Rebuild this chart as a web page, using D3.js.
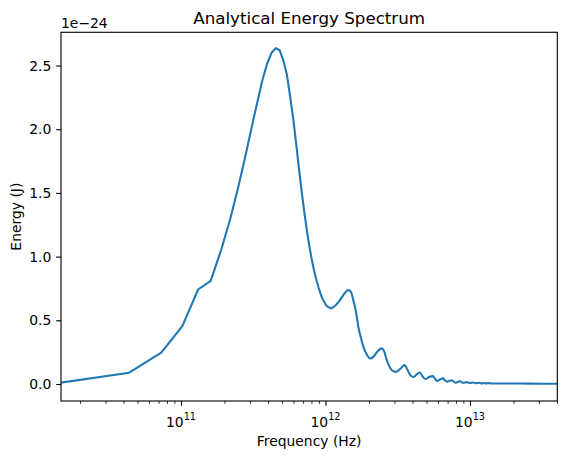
<!DOCTYPE html>
<html>
<head>
<meta charset="utf-8">
<script src="https://cdn.jsdelivr.net/npm/d3@7"></script>
<style>
  body { margin: 0; background: #fff; }
  text { font-family: "DejaVu Sans", sans-serif; fill: #000; }
</style>
</head>
<body>
<svg id="chart"></svg>
<script>
// regularly sampled low part of the spectrum (Hz / energy in units of 1e-24 J)
const sampledFreq = [1.46e10, 4.38e10, 7.30e10, 1.022e11, 1.314e11, 1.606e11,
  1.898e11, 2.19e11, 2.482e11, 2.774e11, 3.066e11, 3.358e11, 3.65e11, 3.942e11, 4.234e11, 4.526e11,
  4.818e11, 5.11e11, 5.402e11, 5.694e11, 5.986e11, 6.278e11, 6.57e11, 6.862e11, 7.154e11, 7.446e11,
  7.738e11, 8.03e11, 8.322e11, 8.614e11, 8.906e11, 9.198e11, 9.49e11, 9.782e11, 1.0074e12, 1.0366e12,
  1.0658e12, 1.095e12];
const sampledEnergy = [0.010, 0.089, 0.247, 0.455, 0.742, 0.810,
  1.054, 1.294, 1.539, 1.777, 2.001, 2.202, 2.380, 2.514, 2.600, 2.637,
  2.620, 2.540, 2.430, 2.257, 2.080, 1.880, 1.680, 1.500, 1.340, 1.200,
  1.080, 0.980, 0.895, 0.825, 0.765, 0.715, 0.675, 0.645, 0.620, 0.607,
  0.598, 0.595];

// ringing tail above ~1 THz
const tailFreq = [1.095e12, 1.163e12, 1.260e12, 1.343e12, 1.438e12, 1.502e12, 1.557e12, 1.626e12,
  1.687e12, 1.761e12, 1.827e12, 1.922e12, 2.032e12, 2.149e12, 2.272e12, 2.449e12, 2.540e12,
  2.652e12, 2.751e12, 2.872e12, 3.080e12, 3.330e12, 3.521e12, 3.693e12, 3.844e12, 4.051e12,
  4.264e12, 4.494e12, 4.692e12, 4.920e12, 5.203e12, 5.528e12, 5.725e12, 5.939e12, 6.200e12,
  6.483e12, 6.714e12, 6.988e12, 7.214e12, 7.472e12, 7.689e12, 7.939e12, 8.195e12, 8.528e12,
  9.0e12, 9.5e12, 1.0e13, 1.05e13, 1.1e13, 1.15e13, 1.2e13, 1.25e13, 1.3e13, 1.35e13, 1.4e13,
  1.613e13, 2.6e13, 4.0e13];
const tailEnergy = [0.595, 0.612, 0.659, 0.706, 0.738, 0.722, 0.659, 0.565,
  0.450, 0.361, 0.293, 0.235, 0.200, 0.215, 0.250, 0.280, 0.260,
  0.190, 0.144, 0.110, 0.095, 0.124, 0.148, 0.112, 0.073, 0.055,
  0.073, 0.091, 0.061, 0.039, 0.055, 0.062, 0.042, 0.024, 0.036,
  0.044, 0.029, 0.018, 0.025, 0.029, 0.020, 0.010, 0.016, 0.021,
  0.009, 0.015, 0.007, 0.012, 0.006, 0.010, 0.005, 0.008, 0.005, 0.007, 0.0045,
  0.004, 0.003, 0.002];

const yTicks = [0.0, 0.5, 1.0, 1.5, 2.0, 2.5];
const xTickExps = [11, 12, 13];
const xDomain = [1.478e10, 4.02e13];
const yDomain = [-0.1334, 2.761];

class SpectrumChart {
    margin = { top: 32.3, right: 9.7, bottom: 58, left: 61 }

    constructor(svg, width = 567, height = 459) {
        this.svg = svg;
        this.width = width;
        this.height = height;
    }

    initialize() {
        this.svg = d3.select(this.svg)
            .attr("width", this.width)
            .attr("height", this.height);
        this.innerW = this.width - this.margin.left - this.margin.right;
        this.innerH = this.height - this.margin.top - this.margin.bottom;

        this.x = d3.scaleLog().domain(xDomain)
            .range([this.margin.left, this.margin.left + this.innerW]);
        this.y = d3.scaleLinear().domain(yDomain)
            .range([this.margin.top + this.innerH, this.margin.top]);

        this.svg.append("clipPath").attr("id", "plotClip")
            .append("rect")
            .attr("x", this.margin.left).attr("y", this.margin.top)
            .attr("width", this.innerW).attr("height", this.innerH);
    }

    update() {
        const x = this.x, y = this.y;
        const bottom = this.margin.top + this.innerH;
        const left = this.margin.left;
        const midX = left + this.innerW / 2;

        const sampled = d3.zip(sampledFreq, sampledEnergy);
        const tail = d3.zip(tailFreq, tailEnergy);

        const plot = this.svg.append("g").attr("clip-path", "url(#plotClip)");
        const straight = d3.line().x(d => x(d[0])).y(d => y(d[1]));
        const smooth = d3.line().x(d => x(d[0])).y(d => y(d[1])).curve(d3.curveMonotoneX);

        plot.append("path").datum(sampled)
            .attr("d", straight)
            .attr("fill", "none").attr("stroke", "#1f77b4")
            .attr("stroke-width", 2.08).attr("stroke-linejoin", "round").attr("stroke-linecap", "square");
        plot.append("path").datum(tail)
            .attr("d", smooth)
            .attr("fill", "none").attr("stroke", "#1f77b4")
            .attr("stroke-width", 2.08).attr("stroke-linejoin", "round");

        // x axis: major decade ticks + minor ticks
        const minor = [];
        for (let e = 10; e <= 13; e++) {
            for (let m = 2; m <= 9; m++) {
                const v = m * Math.pow(10, e);
                if (v >= xDomain[0] && v <= xDomain[1]) minor.push(v);
            }
        }
        const xAxis = this.svg.append("g").attr("transform", `translate(0,${bottom})`);
        xAxis.append("g")
            .call(d3.axisBottom(x).tickValues(minor).tickSize(2.78).tickFormat(""))
            .call(g => g.select(".domain").remove())
            .selectAll("line").attr("stroke", "#000").attr("stroke-width", 0.83);
        const major = xAxis.append("g")
            .call(d3.axisBottom(x).tickValues(xTickExps.map(e => Math.pow(10, e))).tickSize(4.86).tickFormat(""))
            .call(g => g.select(".domain").remove());
        major.selectAll("line").attr("stroke", "#000").attr("stroke-width", 1.11);

        xTickExps.forEach(e => {
            const t = this.svg.append("text")
                .attr("x", x(Math.pow(10, e)))
                .attr("y", bottom + 26)
                .attr("text-anchor", "middle")
                .style("font-size", "13.9px");
            t.append("tspan").text("10");
            t.append("tspan").attr("dy", -6.8).style("font-size", "9.7px").text(e);
        });

        // y axis
        const yAxis = this.svg.append("g").attr("transform", `translate(${left},0)`);
        yAxis.call(d3.axisLeft(y).tickValues(yTicks).tickSize(4.86).tickPadding(4.86).tickFormat(d3.format(".1f")))
            .call(g => g.select(".domain").remove());
        yAxis.selectAll("line").attr("stroke", "#000").attr("stroke-width", 1.11);
        yAxis.selectAll("text")
            .attr("fill", "#000")
            .style("font-family", "DejaVu Sans")
            .style("font-size", "13.9px");

        // frame
        this.svg.append("rect")
            .attr("x", left).attr("y", this.margin.top)
            .attr("width", this.innerW).attr("height", this.innerH)
            .attr("fill", "none").attr("stroke", "#000").attr("stroke-width", 1.11);

        // texts
        this.svg.append("text")
            .attr("x", midX).attr("y", 24)
            .attr("text-anchor", "middle")
            .style("font-size", "16.7px")
            .text("Analytical Energy Spectrum");
        this.svg.append("text")
            .attr("x", midX).attr("y", 446)
            .attr("text-anchor", "middle")
            .style("font-size", "13.9px")
            .text("Frequency (Hz)");
        this.svg.append("text")
            .attr("transform", `translate(20.5,${this.margin.top + this.innerH / 2}) rotate(-90)`)
            .attr("text-anchor", "middle")
            .style("font-size", "13.9px")
            .text("Energy (J)");
        this.svg.append("text")
            .attr("x", left).attr("y", 28)
            .style("font-size", "13.9px")
            .text("1e\u221224");
    }
}

const chart = new SpectrumChart(document.getElementById("chart"));
chart.initialize();
chart.update();
</script>
</body>
</html>
